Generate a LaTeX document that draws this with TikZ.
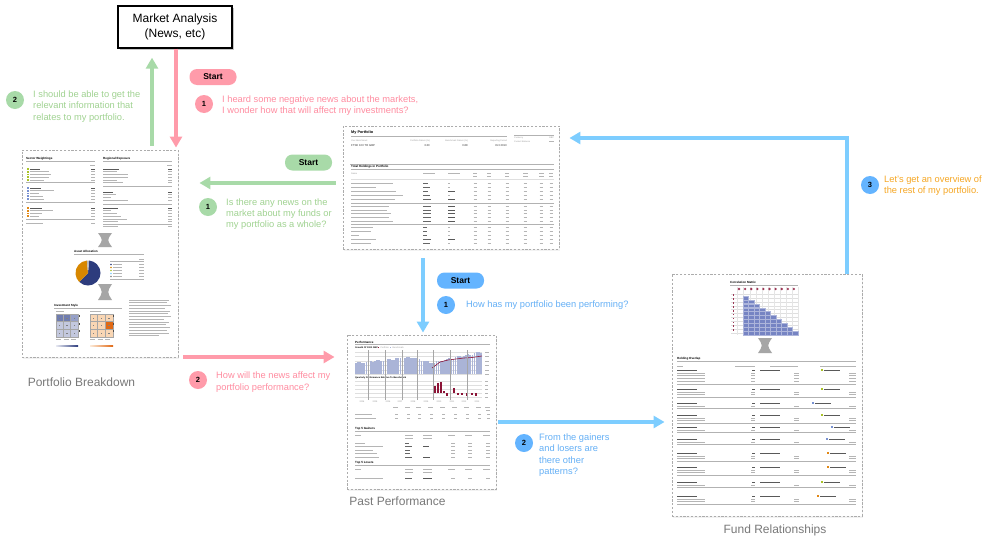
\documentclass[tikz,border=0pt]{standalone}
\usepackage{fontspec}
\setmainfont{Liberation Sans}
\usetikzlibrary{arrows.meta,shadows}
\definecolor{pinkA}{RGB}{255,155,170}
\definecolor{pinkT}{RGB}{255,140,160}
\definecolor{greenA}{RGB}{168,218,168}
\definecolor{greenT}{RGB}{160,210,145}
\definecolor{blueA}{RGB}{125,205,255}
\definecolor{blueB}{RGB}{100,180,255}
\definecolor{blueT}{RGB}{100,175,245}
\definecolor{orangeT}{RGB}{245,166,35}
\definecolor{lblgray}{RGB}{120,120,120}
\definecolor{navy}{RGB}{45,60,125}
\definecolor{pieorange}{RGB}{215,135,0}
\definecolor{barblue}{RGB}{170,180,215}
\definecolor{darkred}{RGB}{140,20,55}
\definecolor{cellblue}{RGB}{118,132,195}
\definecolor{icogreen}{RGB}{170,195,40}
\definecolor{icoblue}{RGB}{120,145,210}
\definecolor{icoorange}{RGB}{225,135,20}
\definecolor{styA}{RGB}{112,125,175}
\definecolor{styB}{RGB}{150,160,200}
\definecolor{styC}{RGB}{195,200,222}
\definecolor{fixA}{RGB}{249,214,180}
\definecolor{fixB}{RGB}{225,105,20}
\newcommand\hglass[3]{\fill[gray!70] (#1-7,#2) -- (#1+7,#2) .. controls (#1+2,{(#2+#3)/2}) .. (#1+7,#3) -- (#1-7,#3) .. controls (#1-2,{(#2+#3)/2}) .. cycle;}
\begin{document}
\begin{tikzpicture}[x=1pt,y=-1pt,
  thumb/.style={draw=gray!65, dash pattern=on 2.2pt off 1.6pt, line width=0.9pt, fill=white, inner sep=0, drop shadow={opacity=0.10, shadow xshift=1.2pt, shadow yshift=-1.5pt}},
  badge/.style={circle, inner sep=0, minimum size=18pt, font=\fontsize{7.5}{8}\selectfont\bfseries, text=black},
  pill/.style={rounded corners=7.5pt, inner sep=0, minimum width=47pt, minimum height=16pt, font=\fontsize{8.5}{9}\selectfont\bfseries, text=black},
  note/.style={anchor=west, align=left, inner sep=0, font=\fontsize{9.3}{11.3}\selectfont},
  caption/.style={inner sep=0, text=lblgray, font=\fontsize{12}{14}\selectfont},
  arr/.style={line width=3.5pt, -{Triangle[width=12pt,length=11pt]}},
  tl/.style={line width=0.6pt, gray!58},
  tb/.style={line width=0.7pt, black!65},
  sep/.style={line width=0.35pt, gray!60},
  ttl/.style={anchor=west, inner sep=0, font=\fontsize{3}{3.5}\selectfont\bfseries},
  tiny/.style={inner sep=0, font=\fontsize{2.2}{2.6}\selectfont, text=gray!80},
  val/.style={inner sep=0, font=\fontsize{2.8}{3}\selectfont, text=black!80},
]
\useasboundingbox (0,0) rectangle (995,549);

% ---------------- main nodes
\node[draw=black, line width=1.3pt, fill=white, minimum width=114pt, minimum height=42pt, align=center,
  font=\fontsize{12}{15}\selectfont, drop shadow={opacity=0.45, shadow xshift=1.5pt, shadow yshift=-1.5pt}]
  (ma) at (175,27) {Market Analysis\\(News, etc)};
\node[thumb, minimum width=156pt, minimum height=207pt] (pb) at (100,253.5) {};
\node[thumb, minimum width=216pt, minimum height=123pt] (mp) at (451,187.5) {};
\node[thumb, minimum width=149pt, minimum height=154pt] (pp) at (421.5,412) {};
\node[thumb, minimum width=190pt, minimum height=242pt] (fr) at (767,395) {};

\node[caption] (cpb) at (81.5,382) {Portfolio Breakdown};
\node[caption] (cpp) at (397.5,501) {Past Performance};
\node[caption] (cfr) at (775,530) {Fund Relationships};

% ---------------- connectors
\coordinate (xp) at (176,0);
\coordinate (xg) at (152,0);
\coordinate (yg) at (0,183);
\coordinate (xb) at (423,0);
\coordinate (yp) at (0,357);
\coordinate (yb) at (0,422);
\coordinate (xe) at (847,0);
\coordinate (ye) at (0,138);
\draw[arr, pinkA, shorten >=2pt] (ma.south -| xp) -- (pb.north -| xp);
\draw[arr, greenA, shorten <=4pt, shorten >=9pt] (pb.north -| xg) -- (ma.south -| xg);
\draw[arr, greenA, shorten <=7pt, shorten >=21pt] (mp.west |- yg) -- (pb.east |- yg);
\draw[arr, blueA, shorten <=9pt, shorten >=2pt] (mp.south -| xb) -- (pp.north -| xb);
\draw[arr, pinkA, shorten <=5pt, shorten >=12pt] (pb.east |- yp) -- (pp.west |- yp);
\draw[arr, blueA, shorten <=2pt, shorten >=7pt] (pp.east |- yb) -- (fr.west |- yb);
\draw[arr, blueA, shorten >=10pt] (fr.north -| xe) |- (mp.east |- ye);

% ---------------- start pills, badges, notes
\node[pill, fill=pinkA] (sp) at (213,77) {Start};
\node[pill, fill=greenA] (sg) at (308.5,162.5) {Start};
\node[pill, fill=blueB] (sb) at (460.5,280.5) {Start};

\node[badge, fill=pinkA] (bp1) at (204,104) {1};
\node[note, text=pinkT] (tp1) at (222,105.5) {I heard some negative news about the markets,\\I wonder how that will affect my investments?};
\node[badge, fill=greenA] (bg2) at (15,100) {2};
\node[note, text=greenT] (tg2) at (33,106.5) {I should be able to get the\\relevant information that\\relates to my portfolio.};
\node[badge, fill=greenA] (bg1) at (208,207) {1};
\node[note, text=greenT] (tg1) at (226,214) {Is there any news on the\\market about my funds or\\my portfolio as a whole?};
\node[badge, fill=blueB] (bb1) at (446,305) {1};
\node[note, text=blueT] (tb1) at (466,305) {How has my portfolio been performing?};
\node[badge, fill=pinkA] (bp2) at (198,380) {2};
\node[note, text=pinkT] (tp2) at (216,382) {How will the news affect my\\portfolio performance?};
\node[badge, fill=blueB] (bb2) at (524,443) {2};
\node[note, text=blueT] (tb2) at (539,455) {From the gainers\\and losers are\\there other\\patterns?};
\node[badge, fill=blueB] (bb3) at (870,185) {3};
\node[note, text=orangeT] (tb3) at (884,185.5) {Let's get an overview of\\the rest of my portfolio.};

% ================= Portfolio Breakdown thumbnail content
\node[ttl] at (26,158.5) {Sector Weightings};
\node[ttl] at (103,158.5) {Regional Exposure};
\draw[sep] (26,161.5) -- (95,161.5); \draw[sep] (103,161.5) -- (172,161.5);
\draw[tl] (90,165) -- (95,165); \draw[tl] (167,165) -- (172,165);
\foreach \yy/\ll/\cc in {169/10/icogreen,171.7/19/icogreen,174.4/21/icogreen,177.1/19/icogreen,179.8/14/icogreen,
  188/11/icoblue,190.7/24/icoblue,193.4/9/icoblue,196.1/13/icoblue,198.8/14/icoblue,
  208/12/icoorange,210.7/23/icoorange,213.4/12/icoorange,216.1/9/icoorange}
 {\fill[\cc] (27,\yy-0.9) rectangle ++(1.8,1.8);
  \draw[tl] (30,\yy) -- ++(\ll,0);
  \draw[tl] (91,\yy) -- (95,\yy);}
\foreach \yy/\ll in {169/10,188/11,208/12} {\draw[tb] (30,\yy) -- ++(\ll,0); \draw[tb] (91,\yy) -- (95,\yy);}
\draw[tl] (26,223) -- ++(17,0); \draw[tl] (91,223) -- (95,223);
\foreach \yy in {182.5,202,219.5} \draw[sep] (26,\yy) -- (95,\yy);
\foreach \yy/\ll in {169/16,171.7/14,174.4/25,177.1/25,179.8/14,182.5/20,
  192/10,194.7/13,197.4/8,200.1/25,
  208/15,210.7/8,213.4/14,216.1/18,218.8/24,221.5/15,226/15}
 {\draw[tl] (103,\yy) -- ++(\ll,0); \draw[tl] (168,\yy) -- (172,\yy);}
\foreach \yy/\ll in {169/16,192/10,208/15} {\draw[tb] (103,\yy) -- ++(\ll,0); \draw[tb] (168,\yy) -- (172,\yy);}
\foreach \yy in {186.5,204.5,224} \draw[sep] (103,\yy) -- (172,\yy);
\hglass{105}{233}{247}
\node[ttl] at (74,251.5) {Asset Allocation};
\draw[sep] (74,254.5) -- (144,254.5);
\begin{scope}[shift={(88,273)}, y=1pt]
  \fill[navy] (0,0) -- (225:12.5) arc (225:445:12.5) -- cycle;
  \fill[pieorange] (0,0) -- (95:12.5) arc (95:225:12.5) -- cycle;
  \fill[gray!55] (0,0) -- (85:12.5) arc (85:95:12.5) -- cycle;
\end{scope}
\draw[tl] (139,259) -- (144,259);
\draw[sep] (110,261) -- (144,261);
\foreach \yy/\cc in {264.5/navy,267.5/pieorange,270.5/icogreen,273.5/blueA,276.5/gray}
 {\fill[\cc] (111,\yy) circle (0.8); \draw[tl] (113,\yy) -- ++(9,0); \draw[tl] (139,\yy) -- (144,\yy);}
\draw[sep] (110,279) -- (144,279);
\hglass{105}{284}{300}
\node[ttl] at (54,305.5) {Investment Style};
\draw[sep] (54,308.5) -- (122,308.5);
\draw[tl] (56,311.5) -- ++(8,0); \draw[tl] (90,311.5) -- ++(11,0);
\foreach \r/\c/\cc in {0/0/styA,0/1/styA,0/2/styB,1/0/styC,1/1/styC,1/2/styC,2/0/styC,2/1/styC,2/2/styC}
 {\filldraw[fill=\cc, draw=gray!70, line width=0.3pt] (56+\c*7.3,314+\r*7.6) rectangle ++(7.3,7.6);
  \fill[black!50] (59+\c*7.3,317.8+\r*7.6) rectangle ++(1.2,0.6);}
\foreach \r/\c/\cc in {0/0/fixA,0/1/fixA,0/2/fixA,1/0/fixA,1/1/fixA,1/2/fixB,2/0/fixA,2/1/fixA,2/2/fixA}
 {\filldraw[fill=\cc, draw=gray!70, line width=0.3pt] (90+\c*7.6,314+\r*7.6) rectangle ++(7.6,7.6);
  \fill[black!50] (93.2+\c*7.6,317.8+\r*7.6) rectangle ++(1.2,0.6);}
\foreach \r in {0,1,2} {\fill[black!70] (78.6,315+\r*7.6) rectangle ++(1,2.2); \fill[black!70] (113.4,315+\r*7.6) rectangle ++(1,2.2);}
\foreach \x in {56,63.5,71,90,97.6,105.2} \draw[tl] (\x,339.5) -- ++(5,0);
\shade[left color=styC!40, right color=navy] (56,345) rectangle (78,346.6);
\shade[left color=fixA!50, right color=fixB] (90,345) rectangle (113,346.6);
\foreach \k/\ll in {0/40,1/38,2/42,3/36,4/41,5/39,6/42,7/35,8/40,9/37,10/41,11/38,12/40,13/30}
 \draw[tl] (129,300+\k*2.75) -- ++(\ll,0);

% ================= My Portfolio thumbnail content
\node[ttl, font=\fontsize{3.8}{4}\selectfont\bfseries] at (351,133) {My Portfolio};
\draw[sep] (351,136) -- (507,136);
\node[tiny, anchor=west] at (351,141) {Your Benchmark};
\node[tiny, anchor=east] at (430,141) {Portfolio Return (\%)};
\node[tiny, anchor=east] at (468,141) {Benchmark Return (\%)};
\node[tiny, anchor=east] at (507,141) {Reporting Period};
\node[val, anchor=west] at (351,146) {FTSE 100 TR GBP};
\node[val, anchor=east] at (430,146) {3.30};
\node[val, anchor=east] at (468,146) {0.88};
\node[val, anchor=east] at (507,146) {Oct 2013};
\draw[gray!60, line width=0.5pt] (514,135) -- (554,135);
\node[tiny, anchor=west] at (514,138) {Currency};
\node[tiny, anchor=east] at (554,138) {GBP};
\node[tiny, anchor=west] at (514,141.5) {Current Balance};
\draw[tl] (549,141.5) -- (554,141.5);
\draw[gray!60, line width=0.7pt] (350,164) -- (554,164);
\node[ttl] at (351,167) {Total Holdings in Portfolio};
\draw[sep] (351,169.5) -- (554,169.5);
\node[tiny, anchor=west] at (351,173.5) {Name};
\foreach \x/\ll in {423/12,448/12,473/4,487/4,505/4,523/5,539/5,549/4} \draw[tl] (\x,173) -- ++(\ll,0);
\foreach \x/\ll in {473/4,487/4,505/4,523/5,539/5,549/4} \draw[tl] (\x,176) -- ++(\ll,0);
\draw[gray!25, line width=1pt] (351,179) -- (554,179);
\foreach \yy/\ll/\st/\rt in {183/42/4/0,187/25/5/0,191/45/4/1,195/52/5/0,199/44/6/1,
  206/38/6/1,210/36/6/1,213.5/40/6/1,217/38/6/1,221/42/6/1,
  227/22/3/0,231/20/3/0,235/8/3/0,239/25/6/1,243/20/5/0}
 {\draw[tl] (351,\yy) -- ++(\ll,0);
  \draw[black!60, line width=0.5pt] (423,\yy) -- ++(\st*1.3,0);
  \ifnum\rt=1 \draw[tb] (448,\yy) -- ++(7,0); \else \draw[tl] (448,\yy) -- ++(2,0); \fi
  \foreach \x in {477,491,509,527,543,553} \draw[tl] (\x-3.5,\yy) -- (\x,\yy);}
\draw[sep] (351,203) -- (554,203);
\draw[sep] (351,224.5) -- (554,224.5);

% ================= Past Performance thumbnail content
\node[ttl] at (355,342) {Performance};
\draw[sep] (355,344.5) -- (490,344.5);
\node[ttl, font=\fontsize{2.3}{2.6}\selectfont\bfseries] at (355,347.5) {Growth Of 1000 GBP};
\fill[darkred] (378,346.8) rectangle ++(1.4,1.4);
\node[tiny, anchor=west] at (380.5,347.5) {Portfolio};
\fill[barblue] (390,346.8) rectangle ++(1.4,1.4);
\node[tiny, anchor=west] at (392.5,347.5) {Benchmark};
\foreach \yy in {352,356.5,361,365.5,370,374} {\draw[gray!25, line width=0.3pt] (355,\yy) -- (482,\yy); \draw[tl] (485,\yy) -- ++(4,0);}
\foreach \i in {0,...,59}{
  \pgfmathsetmacro\hh{ifthenelse(\i<27.5, 11+6*\i/27, ifthenelse(\i<35.5, 17-6*(\i-27)/8, 11+11*(\i-35)/24)) + 0.8*sin(\i*77)}
  \fill[barblue] (355+\i*2.12,374) rectangle ++(1.75,-\hh);
}
\draw[darkred, line width=0.6pt] (432,368) -- (436,365) -- (440,362) -- (448,360) -- (456,359) -- (464,358) -- (472,357.5) -- (482,356);
\node[ttl, font=\fontsize{2.3}{2.6}\selectfont\bfseries] at (355,377.5) {Quarterly Performance Relative To Benchmark};
\foreach \yy in {381,385,389,393,397} {\draw[gray!25, line width=0.3pt] (355,\yy) -- (482,\yy); \draw[tl] (485,\yy) -- ++(3,0);}
\foreach \x/\t in {433.5/386,436.5/383,439.5/381.5,442.5/391,452.5/388} \fill[darkred] (\x,393) rectangle (\x+2.2,\t);
\foreach \x/\t in {446/395.5,457/395,461/394.5,466/396,470.5/395,475/395.5} \fill[darkred] (\x,393) rectangle (\x+2.2,\t);
\foreach \x in {368,385,402,417,433,450,467} \draw[gray!70, line width=0.4pt] (\x,350) -- (\x,400);
\foreach \x/\t in {362/2004,375/2005,388/2006,400/2007,413/2008,426/2009,439/2010,452/2011,464/2012,477/2013}
  \node[tiny] at (\x,402) {\t};
\foreach \x in {398,410,421,433,445,457,469,481,490} \draw[tl] (\x-5,407) -- (\x,407);
\draw[tl] (486,410) -- (490,410);
\foreach \yy/\ll in {414/17,418/21} {\draw[tl] (355,\yy) -- ++(\ll,0);
  \foreach \x in {398,410,421,433,445,457,469,481,490} \draw[tl] (\x-3,\yy) -- (\x,\yy);}
\node[ttl] at (355,429) {Top 5 Gainers};
\draw[sep] (355,431.5) -- (490,431.5);
\foreach \yy in {435,438} {\draw[tl] (355,435) -- ++(6,0); \draw[tl] (405,\yy) -- ++(8,0); \draw[tl] (423,\yy) -- ++(9,0);}
\foreach \x in {455,472,490} \draw[tl] (\x-7,435) -- (\x,435);
\foreach \yy/\ll in {443/10,446.5/28,450/18,453.5/22,457/24}
 {\draw[tl] (355,\yy) -- ++(\ll,0); \foreach \x in {455,472,490} \draw[tl] (\x-4,\yy) -- (\x,\yy);}
\foreach \yy/\st in {443/3,446.5/5,450/4,453.5/4,457/5} \draw[black!60, line width=0.5pt] (405,\yy) -- ++(\st*1.3,0);
\draw[tb] (423,446.5) -- ++(6,0); \draw[tb] (423,457) -- ++(7,0);
\node[ttl] at (355,463) {Top 5 Losers};
\draw[sep] (355,465.5) -- (490,465.5);
\foreach \yy in {469,472} {\draw[tl] (405,\yy) -- ++(8,0); \draw[tl] (423,\yy) -- ++(9,0);}
\draw[tl] (355,469) -- ++(6,0);
\foreach \x in {455,472,490} \draw[tl] (\x-7,469) -- (\x,469);
\draw[tl] (355,478) -- ++(28,0);
\draw[black!60, line width=0.5pt] (405,478) -- ++(6.5,0);
\draw[tb] (423,478) -- ++(9,0);
\foreach \x in {455,472,490} \draw[tl] (\x-4,478) -- (\x,478);

% ================= Fund Relationships thumbnail content
\node[ttl] at (730,282.5) {Correlation Matrix};
\draw[sep] (730,285) -- (798,285);
\foreach \r in {0,...,10} \draw[gray!25, line width=0.25pt] (731,294+\r*3.9) -- (799,294+\r*3.9);
\foreach \c in {0,...,10} \draw[gray!20, line width=0.25pt] (737.5+\c*6.1,287) -- (737.5+\c*6.1,335);
\foreach \k in {0,...,9} {
  \fill[darkred!85] (739+\k*6.1,289) circle (1.3);
  \fill[darkred!85] (732.5,294.2+\k*3.9) rectangle ++(1.7,1.7);}
\foreach \r in {0,...,9}{\foreach \c in {0,...,\r}{
  \filldraw[fill=cellblue, draw=cellblue!60, line width=0.25pt] (743+\c*5.5,296+\r*3.9) rectangle ++(5.3,3.7);}}
\hglass{765}{338}{353}
\node[ttl] at (677,359) {Holding Overlap};
\draw[sep] (677,361.5) -- (856,361.5);
\foreach \x/\ll in {677/6,735/20,770/28,820/36} \draw[tl] (\x,366) -- ++(\ll,0);
\foreach \gy/\n/\cc/\ix in {370/5/icogreen/821,389/3/icogreen/821,403/2/icoblue/812,415/3/icogreen/821,427/2/icoblue/831,439/2/icoblue/826,453/3/icoorange/827,467/3/icoorange/827,482/2/icogreen/821,496/3/icoorange/817}{
  \draw[tb] (677,\gy) -- ++(20,0);
  \draw[tb] (752,\gy) -- (755,\gy);
  \draw[tb] (760,\gy) -- ++(20,0);
  \fill[\cc] (\ix,\gy-1.1) rectangle ++(2.2,2.2);
  \draw[tb] (\ix+3,\gy) -- ++(16,0);
  \pgfmathtruncatemacro\m{\n-1}
  \foreach \k in {1,...,\m}{
    \draw[tl] (677,\gy+\k*2.8) -- ++(28,0);
    \draw[tl] (751,\gy+\k*2.8) -- (755,\gy+\k*2.8);
    \draw[tl] (794,\gy+\k*2.8) -- (799,\gy+\k*2.8);
    \draw[tl] (849,\gy+\k*2.8) -- (856,\gy+\k*2.8);
  }
  \draw[sep] (677,\gy+\n*2.8) -- (856,\gy+\n*2.8);
}
\end{tikzpicture}
\end{document}
